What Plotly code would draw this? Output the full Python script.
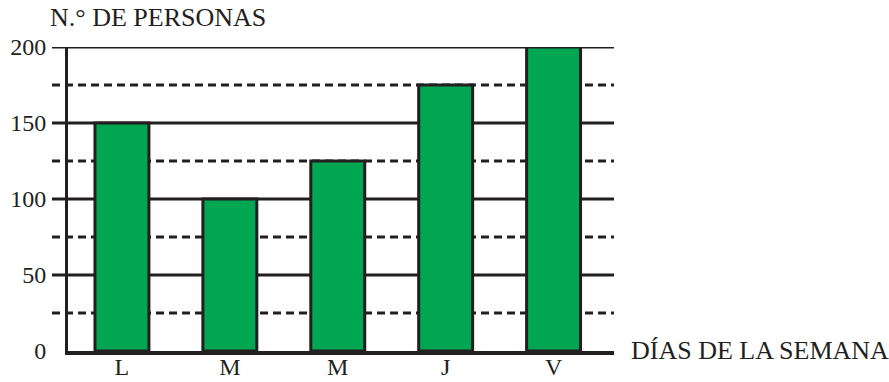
import plotly.graph_objects as go

# Weekly attendance data
days = ["L", "M", "M", "J", "V"]
people = [150, 100, 125, 175, 200]

# Horizontal reference lines: solid at major steps, dashed in between
solid_levels = [50, 100, 150, 200]
dashed_levels = [25, 75, 125, 175]
y_ticks = [0, 50, 100, 150, 200]

INK = "#231f20"
GREEN = "#00a651"
FONT = "Liberation Serif"

W, H = 889, 382
L_M, R_M, T_M, B_M = 68, 275, 47, 31
plot_w = W - L_M - R_M
plot_h = H - T_M - B_M
stub = 16 / plot_w  # lines reach a little left of the vertical axis

x_pos = list(range(len(days)))

fig = go.Figure(
    go.Bar(
        x=x_pos,
        y=people,
        width=0.5,
        marker=dict(color=GREEN, line=dict(color=INK, width=3)),
        hoverinfo="skip",
    )
)

shapes = []
for lv in solid_levels:
    shapes.append(dict(type="line", xref="paper", yref="y", x0=-stub, x1=1,
                       y0=lv, y1=lv, layer="below",
                       line=dict(color=INK, width=3)))
for lv in dashed_levels:
    shapes.append(dict(type="line", xref="paper", yref="y", x0=-stub, x1=1,
                       y0=lv, y1=lv, layer="below",
                       line=dict(color=INK, width=3, dash="8px,5px")))

fig.update_layout(
    width=W,
    height=H,
    margin=dict(l=L_M, r=R_M, t=T_M, b=B_M),
    paper_bgcolor="white",
    plot_bgcolor="white",
    showlegend=False,
    shapes=shapes,
    font=dict(family=FONT, color=INK, size=24),
    xaxis=dict(
        range=[-0.5, 4.56],
        tickvals=x_pos,
        ticktext=days,
        showgrid=False,
        zeroline=False,
        showline=True,
        linecolor=INK,
        linewidth=4,
        ticks="",
        ticklabelstandoff=-9,
        tickfont=dict(family=FONT, size=24, color=INK),
        automargin=False,
        fixedrange=True,
    ),
    yaxis=dict(
        range=[0, 200],
        tickvals=y_ticks,
        showgrid=False,
        zeroline=False,
        showline=True,
        linecolor=INK,
        linewidth=3,
        ticks="",
        ticklabelstandoff=14,
        tickfont=dict(family=FONT, size=24, color=INK),
        automargin=False,
        fixedrange=True,
    ),
    annotations=[
        dict(text="N.° DE PERSONAS", xref="paper", yref="paper",
             x=(48 - L_M) / plot_w, y=1 + (47 - 18) / plot_h,
             xanchor="left", yanchor="middle", showarrow=False,
             font=dict(family=FONT, size=26, color=INK)),
        dict(text="DÍAS DE LA SEMANA", xref="paper", yref="paper",
             x=(629 - L_M) / plot_w, y=(351 - 350) / plot_h,
             xanchor="left", yanchor="middle", showarrow=False,
             font=dict(family=FONT, size=26, color=INK)),
    ],
)

fig.write_html("out.html", config={"displayModeBar": False})
